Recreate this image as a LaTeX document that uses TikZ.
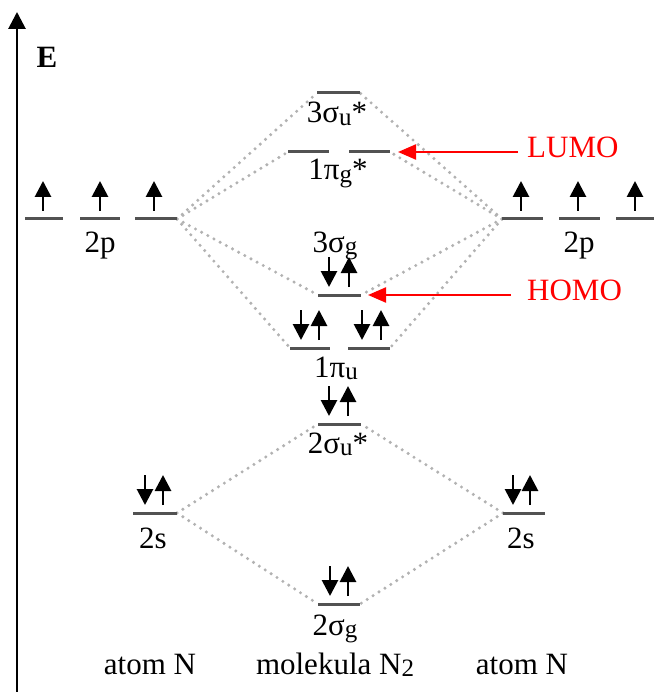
\documentclass[tikz,border=0pt]{standalone}
\usepackage{fontspec}
\setmainfont{Liberation Serif}
\usetikzlibrary{arrows.meta,calc}
\newcommand\sbs[1]{\raisebox{-0.08em}{\fontsize{25}{25}\selectfont #1}}
\newcommand\mklevel[4]{\coordinate (#1-l) at (#2,#4); \coordinate (#1-r) at (#3,#4); \draw[level] (#1-l) -- (#1-r);}
\newcommand\spinup[2]{\draw[spin] (#1,#2-8) -- (#1,#2-38);}
\newcommand\spindown[2]{\draw[spin] (#1,#2-38) -- (#1,#2-8);}
\tikzset{
  level/.style={draw=black!68, line width=3pt},
  spin/.style={line width=2.8pt, -{Triangle[length=16pt,width=16pt]}},
  corr/.style={draw=black!30, line width=3.4pt, line cap=round, dash pattern=on 0pt off 7pt},
  lbl/.style={anchor=base, inner sep=0pt, font=\fontsize{31}{36}\selectfont},
  redlbl/.style={anchor=base west, inner sep=0pt, text=red, font=\fontsize{31}{36}\selectfont},
  redarrow/.style={draw=red, line width=2.2pt, -{Triangle[length=18pt,width=15pt]}},
  axis/.style={line width=2.8pt, -{Triangle[length=17pt,width=17pt]}}
}
\begin{document}
\begin{tikzpicture}[x=1pt,y=-1pt]
\useasboundingbox (0,0) rectangle (654,692);
% axis
\coordinate (ax0) at (17,692);
\coordinate (ax1) at (17,12);
\draw[axis] (ax0) -- (ax1);
\node[lbl, font=\fontsize{31}{36}\selectfont\bfseries] (E) at (47,68) {E};
% correlation lines (drawn first, below levels)
\coordinate (Lp3-r0) at (177,219);
\coordinate (Rp1-l0) at (502,219);
\coordinate (su3-l0) at (317,93); \coordinate (su3-r0) at (360,93);
\coordinate (pg1a-l0) at (288,152); \coordinate (pg1b-r0) at (390,152);
\coordinate (sg3-l0) at (318,295); \coordinate (sg3-r0) at (361,295);
\coordinate (pu1a-l0) at (290,348); \coordinate (pu1b-r0) at (390,348);
\coordinate (Ls-r0) at (177,513); \coordinate (Rs-l0) at (503,513);
\coordinate (su2-l0) at (318,424); \coordinate (su2-r0) at (361,424);
\coordinate (sg2-l0) at (318,604); \coordinate (sg2-r0) at (360,604);
\foreach \t in {su3-l0,pg1a-l0,sg3-l0,pu1a-l0} \draw[corr] (Lp3-r0) -- (\t);
\foreach \t in {su3-r0,pg1b-r0,sg3-r0,pu1b-r0} \draw[corr] (Rp1-l0) -- (\t);
\foreach \t in {su2-l0,sg2-l0} \draw[corr] (Ls-r0) -- (\t);
\foreach \t in {su2-r0,sg2-r0} \draw[corr] (Rs-l0) -- (\t);
% levels
\mklevel{Lp1}{25}{63}{219}
\mklevel{Lp2}{80}{120}{219}
\mklevel{Lp3}{135}{177}{219}
\mklevel{Rp1}{502}{543}{219}
\mklevel{Rp2}{559}{600}{219}
\mklevel{Rp3}{616}{654}{219}
\mklevel{su3}{317}{360}{93}
\mklevel{pg1a}{288}{329}{152}
\mklevel{pg1b}{349}{390}{152}
\mklevel{sg3}{318}{361}{295}
\mklevel{pu1a}{290}{330}{348}
\mklevel{pu1b}{348}{390}{348}
\mklevel{su2}{318}{361}{424}
\mklevel{Ls}{133}{177}{513}
\mklevel{Rs}{503}{545}{513}
\mklevel{sg2}{318}{360}{604}
% electrons
\spinup{43}{219} \spinup{100}{219} \spinup{154}{219}
\spinup{521}{219} \spinup{578}{219} \spinup{635}{219}
\spindown{329}{295} \spinup{349}{295}
\spindown{301}{348} \spinup{319}{348}
\spindown{362}{348} \spinup{381}{348}
\spindown{329}{424} \spinup{348}{424}
\spindown{145}{513} \spinup{163}{513}
\spindown{513}{513} \spinup{530}{513}
\spindown{330}{604} \spinup{348}{604}
% labels
\node[lbl] (t2pL) at (100,252) {2p};
\node[lbl] (t2pR) at (579,252) {2p};
\node[lbl] (tsu3) at (337,123) {3σ\sbs{u}*};
\node[lbl] (tpg1) at (338,180) {1π\sbs{g}*};
\node[lbl] (tsg3) at (335,252) {3σ\sbs{g}};
\node[lbl] (tpu1) at (336,377) {1π\sbs{u}};
\node[lbl] (tsu2) at (338,453) {2σ\sbs{u}*};
\node[lbl] (t2sL) at (153,548) {2s};
\node[lbl] (t2sR) at (521,548) {2s};
\node[lbl] (tsg2) at (335,635) {2σ\sbs{g}};
\node[lbl] (atL) at (150,674) {atom N};
\node[lbl] (mol) at (335,674) {molekula N\sbs{2}};
\node[lbl] (atR) at (522,674) {atom N};
% LUMO / HOMO
\node[redlbl] (LUMO) at (527,158) {LUMO};
\node[redlbl] (HOMO) at (527,300) {HOMO};
\draw[redarrow] ($(LUMO.west |- pg1b-r)+(-9,0)$) -- ($(pg1b-r)+(8,0)$);
\draw[redarrow] ($(HOMO.west |- sg3-r)+(-16,0)$) -- ($(sg3-r)+(7,0)$);
\end{tikzpicture}
\end{document}
